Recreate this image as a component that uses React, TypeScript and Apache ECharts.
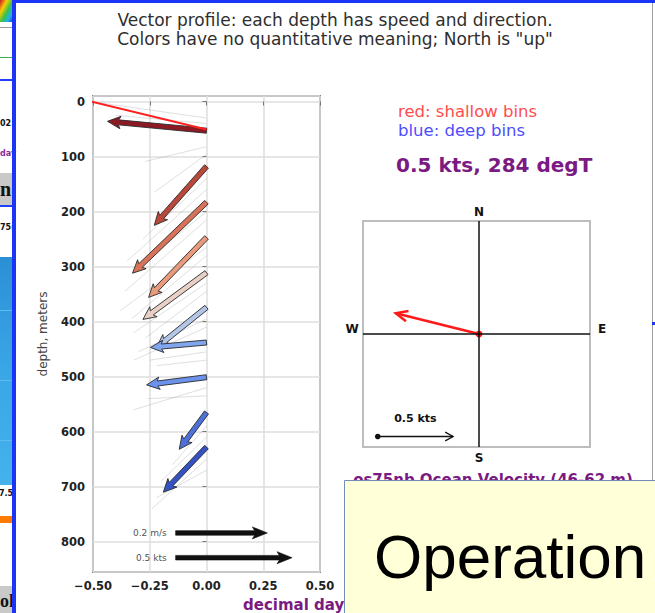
import React, { useEffect, useRef } from "react";
import * as echarts from "echarts";

const FONT = "DejaVu Sans, sans-serif";

// ---- main profile panel data (east component in kts-scaled units, depth in meters)
const xTickMin = -0.5;
const xTickMax = 0.5;
const xTickStep = 0.25;
const depthMin = -10;
const depthMax = 855;
const depthStep = 100;

// coloured profile vectors: start at east=0 at profileDepth, tip at (profileTipEast, profileTipDepth)
const profileDepth = [53, 118, 183, 247, 311, 374, 438, 501, 565, 628];
const profileTipEast = [-0.436, -0.23, -0.326, -0.255, -0.28, -0.22, -0.247, -0.264, -0.12, -0.19];
const profileTipDepth = [36, 225, 312, 356, 396, 447, 447, 515, 632, 710];
const profileColors = [
  "#8c1a24", "#b9473a", "#d8735a", "#e89a7c", "#e9d0c4",
  "#b3c6e8", "#80a6ef", "#6b93ee", "#4e70d9", "#3552c4",
];

// faint grey vectors of other profiles
const faintDepth = [30, 40, 82, 96, 140, 160, 200, 215, 265, 280, 330, 345, 395, 410, 455, 470, 520, 535, 590, 610, 650, 670];
const faintTipEast = [-0.48, -0.4, -0.27, -0.23, -0.28, -0.35, -0.3, -0.36, -0.38, -0.33, -0.32, -0.27, -0.3, -0.32, -0.25, -0.22, -0.32, -0.26, -0.15, -0.2, -0.24, -0.22];
const faintTipDepth = [2, 25, 109, 165, 250, 290, 300, 345, 380, 395, 420, 430, 455, 470, 470, 480, 560, 540, 660, 690, 740, 720];

// red clipped line at the top
const topLineEast = [0, -0.53];
const topLineDepth = [51, -2];

// reference arrows
const scaleLabels = ["0.2 m/s", "0.5 kts"];
const scaleStartEast = [-0.136, -0.136];
const scaleTipEast = [0.268, 0.377];
const scaleDepth = [784, 829];

// ---- compass panel
const compassSpeed = 0.53;
const compassDirDeg = 284;
const compassXRange = [-0.716, 0.685];
const compassYRange = [-0.7, 0.7];
const compassScaleLabel = "0.5 kts";
const compassScaleStart = [-0.625, -0.635];
const compassScaleEnd = [-0.16, -0.635];

function arrowPoints(p0: number[], p1: number[], sw: number, hw: number, hl: number) {
  const dx = p1[0] - p0[0];
  const dy = p1[1] - p0[1];
  const L = Math.hypot(dx, dy) || 1;
  const ux = dx / L, uy = dy / L;
  const nx = -uy, ny = ux;
  const h = Math.min(hl, L * 0.6);
  const bx = p1[0] - ux * h, by = p1[1] - uy * h;
  const sx = p1[0] - ux * h * 0.85, sy = p1[1] - uy * h * 0.85;
  return [
    [p0[0] + nx * sw, p0[1] + ny * sw],
    [sx + nx * sw, sy + ny * sw],
    [bx + nx * hw, by + ny * hw],
    [p1[0], p1[1]],
    [bx - nx * hw, by - ny * hw],
    [sx - nx * sw, sy - ny * sw],
    [p0[0] - nx * sw, p0[1] - ny * sw],
  ];
}

function openHead(p0: number[], p1: number[], len: number, ang: number) {
  const a = Math.atan2(p1[1] - p0[1], p1[0] - p0[0]);
  return [
    [p1[0] - len * Math.cos(a - ang), p1[1] - len * Math.sin(a - ang)],
    [p1[0], p1[1]],
    [p1[0] - len * Math.cos(a + ang), p1[1] - len * Math.sin(a + ang)],
  ];
}

function txt(text: string, x: number, y: number, size: number, color: string, opts: any = {}) {
  const weight = opts.bold ? "bold " : "";
  const family = opts.family || FONT;
  const align = opts.align || "left";
  return {
    type: "text",
    z: opts.z ?? 50,
    style: {
      text,
      x,
      y,
      fill: color,
      font: `${weight}${size}px ${family}`,
      align,
      textAlign: align,
      verticalAlign: "middle",
      textVerticalAlign: "middle",
    },
  };
}

function rect(x: number, y: number, w: number, h: number, fill: any, z = 40, stroke?: string) {
  return {
    type: "rect",
    z,
    shape: { x, y, width: w, height: h },
    style: stroke ? { fill, stroke, lineWidth: 1 } : { fill },
  };
}

export default function App() {
  const ref = useRef<HTMLDivElement>(null);

  useEffect(() => {
    if (!ref.current) return;
    const chart = echarts.init(ref.current, undefined, { renderer: "svg" });

    const profileData = profileDepth.map((d, i) => ({
      value: [d, profileTipEast[i], profileTipDepth[i]],
      itemStyle: { color: profileColors[i] },
    }));
    const faintData = faintDepth.map((d, i) => [d, faintTipEast[i], faintTipDepth[i]]);
    const scaleData = scaleDepth.map((d, i) => [scaleStartEast[i], scaleTipEast[i], d, i]);

    const rad = (compassDirDeg * Math.PI) / 180;
    const cu = compassSpeed * Math.sin(rad);
    const cv = compassSpeed * Math.cos(rad);

    const jet = new echarts.graphic.LinearGradient(0, 0, 1, 1, [
      { offset: 0, color: "#c8102e" },
      { offset: 0.3, color: "#f5d000" },
      { offset: 0.55, color: "#3cc04a" },
      { offset: 0.8, color: "#20b0e8" },
      { offset: 1, color: "#1a40ff" },
    ]);
    const blueFill = new echarts.graphic.LinearGradient(0, 0, 0, 1, [
      { offset: 0, color: "#2c8fd6" },
      { offset: 0.5, color: "#3aa6e6" },
      { offset: 1, color: "#45b2ec" },
    ]);

    const option: any = {
      animation: false,
      backgroundColor: "#ffffff",
      grid: [
        { left: 93, top: 96, width: 227, height: 476, show: true, borderColor: "#858585", borderWidth: 2, backgroundColor: "transparent" },
        { left: 363, top: 221, width: 227, height: 226, show: true, borderColor: "#bdbdbd", borderWidth: 2, backgroundColor: "transparent" },
      ],
      xAxis: [
        {
          gridIndex: 0,
          type: "value",
          min: xTickMin,
          max: xTickMax,
          interval: xTickStep,
          axisLine: { show: false },
          axisTick: { show: true, length: 4, lineStyle: { color: "#777" } },
          splitLine: { show: true, lineStyle: { color: "#dedede", width: 1.5 } },
          axisLabel: {
            margin: 8,
            fontFamily: FONT,
            fontSize: 11.5,
            fontWeight: "bold",
            color: "#222",
            formatter: (v: number) => (v < 0 ? "\u2212" : "") + Math.abs(v).toFixed(2),
          },
        },
        { gridIndex: 1, type: "value", min: compassXRange[0], max: compassXRange[1], show: false, splitLine: { show: false } },
      ],
      yAxis: [
        {
          gridIndex: 0,
          type: "value",
          inverse: true,
          min: depthMin,
          max: depthMax,
          splitNumber: 9,
          minInterval: depthStep,
          maxInterval: depthStep,
          name: "depth, meters",
          nameLocation: "middle",
          nameGap: 44,
          nameTextStyle: { fontFamily: FONT, fontSize: 12, color: "#444" },
          axisLine: { show: false },
          axisTick: { show: true, length: 4, lineStyle: { color: "#777" } },
          splitLine: { show: true, lineStyle: { color: "#dedede", width: 1.5 } },
          axisLabel: {
            margin: 8,
            showMinLabel: false,
            showMaxLabel: false,
            fontFamily: FONT,
            fontSize: 11.5,
            fontWeight: "bold",
            color: "#222",
            formatter: (v: number) => (v % 100 === 0 ? String(v) : ""),
          },
        },
        { gridIndex: 1, type: "value", min: compassYRange[0], max: compassYRange[1], show: false, splitLine: { show: false } },
      ],
      series: [
        {
          type: "custom",
          name: "faint",
          xAxisIndex: 0,
          yAxisIndex: 0,
          clip: true,
          silent: true,
          data: faintData,
          encode: { x: 1, y: 0 },
          renderItem: (params: any, api: any) => {
            const s = api.coord([0, api.value(0)]);
            const e = api.coord([api.value(1), api.value(2)]);
            return {
              type: "line",
              shape: { x1: s[0], y1: s[1], x2: e[0], y2: e[1] },
              style: { stroke: "rgba(140,140,140,0.4)", lineWidth: 0.7 },
            };
          },
        },
        {
          type: "line",
          xAxisIndex: 0,
          yAxisIndex: 0,
          clip: true,
          symbol: "none",
          data: topLineEast.map((e, i) => [e, topLineDepth[i]]),
          lineStyle: { color: "#ff1f1f", width: 2 },
        },
        {
          type: "custom",
          name: "profile",
          xAxisIndex: 0,
          yAxisIndex: 0,
          clip: true,
          data: profileData,
          encode: { x: 1, y: 0 },
          renderItem: (params: any, api: any) => {
            const s = api.coord([0, api.value(0)]);
            const e = api.coord([api.value(1), api.value(2)]);
            return {
              type: "polygon",
              shape: { points: arrowPoints(s, e, 2.5, 6.2, 13) },
              style: { fill: api.visual("color"), stroke: "#2a2a2a", lineWidth: 0.9 },
            };
          },
        },
        {
          type: "custom",
          name: "scale",
          xAxisIndex: 0,
          yAxisIndex: 0,
          clip: false,
          data: scaleData,
          encode: { x: 1, y: 2 },
          renderItem: (params: any, api: any) => {
            const s = api.coord([api.value(0), api.value(2)]);
            const e = api.coord([api.value(1), api.value(2)]);
            const idx = api.value(3);
            return {
              type: "group",
              children: [
                {
                  type: "polygon",
                  shape: { points: arrowPoints(s, e, 2.3, 6, 15) },
                  style: { fill: "#111", stroke: "#111", lineWidth: 0.6 },
                },
                {
                  type: "text",
                  style: {
                    text: scaleLabels[idx],
                    x: s[0] - 9,
                    y: s[1],
                    align: "right",
                    verticalAlign: "middle",
                    textAlign: "right",
                    textVerticalAlign: "middle",
                    fill: "#555",
                    font: `9px ${FONT}`,
                  },
                },
              ],
            };
          },
        },
        {
          type: "line",
          xAxisIndex: 1,
          yAxisIndex: 1,
          symbol: "none",
          data: [[compassXRange[0], 0], [compassXRange[1], 0]],
          lineStyle: { color: "#111", width: 1.5 },
        },
        {
          type: "line",
          xAxisIndex: 1,
          yAxisIndex: 1,
          symbol: "none",
          data: [[0, compassYRange[0]], [0, compassYRange[1]]],
          lineStyle: { color: "#111", width: 1.5 },
        },
        {
          type: "custom",
          name: "compass",
          xAxisIndex: 1,
          yAxisIndex: 1,
          data: [[0, 0, cu, cv]],
          renderItem: (params: any, api: any) => {
            const s = api.coord([api.value(0), api.value(1)]);
            const e = api.coord([api.value(2), api.value(3)]);
            return {
              type: "group",
              children: [
                { type: "line", shape: { x1: s[0], y1: s[1], x2: e[0], y2: e[1] }, style: { stroke: "#ff1a1a", lineWidth: 2.6 } },
                { type: "polyline", shape: { points: openHead(s, e, 13, 0.42) }, style: { stroke: "#ff1a1a", lineWidth: 2.4, fill: "none" } },
                { type: "circle", shape: { cx: s[0], cy: s[1], r: 3.5 }, style: { fill: "#ff1a1a" } },
                { type: "circle", shape: { cx: s[0], cy: s[1], r: 1.5 }, style: { fill: "#550000" } },
              ],
            };
          },
        },
        {
          type: "custom",
          name: "compassScale",
          xAxisIndex: 1,
          yAxisIndex: 1,
          data: [[compassScaleStart[0], compassScaleStart[1], compassScaleEnd[0], compassScaleEnd[1]]],
          renderItem: (params: any, api: any) => {
            const s = api.coord([api.value(0), api.value(1)]);
            const e = api.coord([api.value(2), api.value(3)]);
            return {
              type: "group",
              children: [
                { type: "line", shape: { x1: s[0], y1: s[1], x2: e[0], y2: e[1] }, style: { stroke: "#111", lineWidth: 1.3 } },
                { type: "polyline", shape: { points: openHead(s, e, 9, 0.5) }, style: { stroke: "#111", lineWidth: 1.3, fill: "none" } },
                { type: "circle", shape: { cx: s[0], cy: s[1], r: 2.8 }, style: { fill: "#111" } },
                {
                  type: "text",
                  style: {
                    text: compassScaleLabel,
                    x: (s[0] + e[0]) / 2,
                    y: s[1] - 18,
                    align: "center",
                    textAlign: "center",
                    verticalAlign: "middle",
                    textVerticalAlign: "middle",
                    fill: "#111",
                    font: `bold 11px ${FONT}`,
                  },
                },
              ],
            };
          },
        },
      ],
      graphic: [
        // screenshot surroundings, left strip
        rect(0, 0, 12, 22, jet, 30),
        rect(0, 27, 12, 1, "#9a9a9a", 30),
        rect(0, 57, 12, 1, "#3cb04a", 30),
        rect(0, 79, 12, 2, "#2040ff", 30),
        txt("02.", 0, 123, 8, "#111", { bold: true, z: 31 }),
        txt("day", 0, 153, 8, "#8a2a9a", { bold: true, z: 31 }),
        rect(0, 173, 12, 32, "#c9c9c9", 30),
        txt("n", 0, 189, 20, "#111", { bold: true, family: "Liberation Serif, serif", z: 31 }),
        rect(0, 205, 12, 2, "#2040ff", 30),
        txt("75r", 0, 227, 8, "#111", { bold: true, z: 31 }),
        rect(0, 257, 12, 228, blueFill, 30),
        rect(0, 310, 12, 1, "#5cbcf0", 31),
        rect(0, 380, 12, 1, "#5cbcf0", 31),
        rect(0, 440, 12, 1, "#5cbcf0", 31),
        txt("7.5", -1, 493, 8, "#111", { bold: true, z: 31 }),
        rect(0, 516, 12, 7, "#ff7a00", 30),
        rect(0, 586, 12, 27, "#c9c9c9", 30),
        txt("ol", 0, 601, 18, "#111", { bold: true, family: "Liberation Serif, serif", z: 31 }),
        rect(12, 0, 4, 613, "#1a35f5", 32),
        rect(12, 0, 643, 3, "#1a35f5", 32),
        rect(652, 3, 1, 477, "#a0a0a0", 32),
        rect(652, 322, 3, 3, "#1a35f5", 32),
        // title
        txt("Vector profile: each depth has speed and direction.", 335, 20, 17, "#2e2e2e", { align: "center" }),
        txt('Colors have no quantitative meaning; North is "up"', 335, 39, 17, "#2e2e2e", { align: "center" }),
        // legend text
        txt("red: shallow bins", 398, 111, 16.5, "#ff4d4d"),
        txt("blue: deep bins", 398, 130, 16.5, "#4d4dff"),
        txt("0.5 kts, 284 degT", 396, 165, 20, "#7a1a82", { bold: true }),
        // compass labels
        txt("N", 479, 212, 12, "#111", { bold: true, align: "center" }),
        txt("S", 479, 458, 12, "#111", { bold: true, align: "center" }),
        txt("W", 352, 329, 12, "#111", { bold: true, align: "center" }),
        txt("E", 602, 329, 12, "#111", { bold: true, align: "center" }),
        txt("os75nb Ocean Velocity (46-62 m)", 493, 480, 15, "#7a1a82", { bold: true, align: "center" }),
        txt("decimal day", 243, 605, 15, "#7a1a82", { bold: true }),
        // yellow overlay box
        {
          type: "rect",
          z: 90,
          shape: { x: 344.5, y: 480.5, width: 320, height: 140 },
          style: { fill: "#ffffd8", stroke: "#6f8fba", lineWidth: 1 },
        },
        txt("Operation", 374, 556, 62, "#000", { family: "Liberation Sans, Arial, sans-serif", z: 91 }),
      ],
    };

    chart.setOption(option);
    return () => chart.dispose();
  }, []);

  return <div ref={ref} style={{ position: "absolute", left: 0, top: 0, width: 655, height: 613 }} />;
}
